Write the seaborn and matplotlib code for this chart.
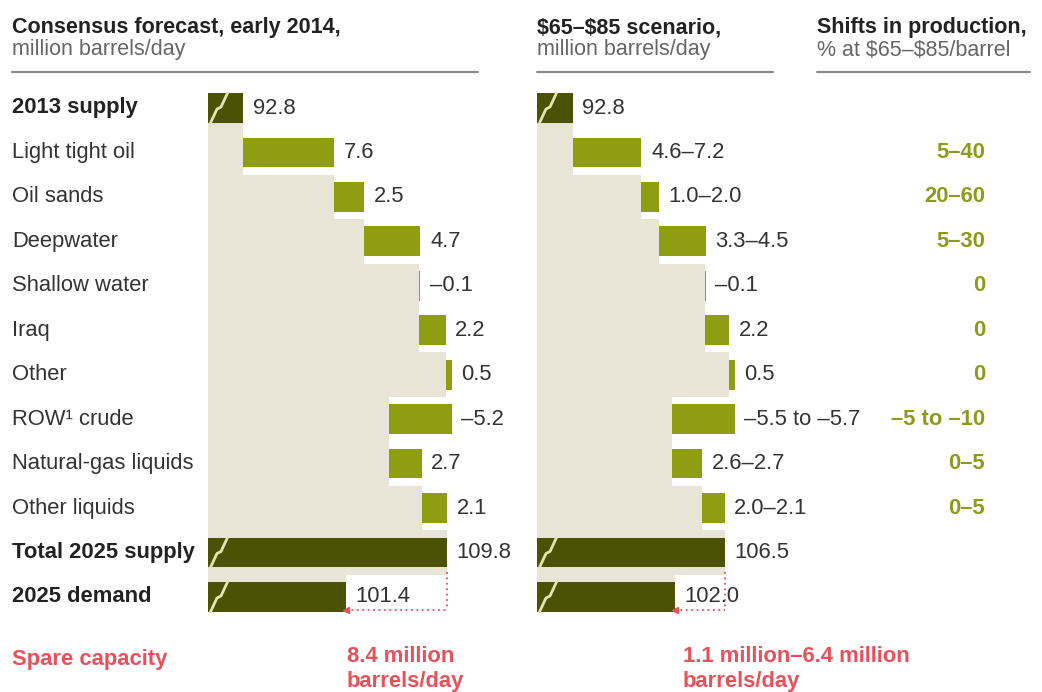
import numpy as np
import pandas as pd
import matplotlib
matplotlib.use("Agg")
import matplotlib.pyplot as plt
import seaborn as sns
from matplotlib.lines import Line2D
from matplotlib.transforms import blended_transform_factory

# ---- data -------------------------------------------------------------
rows = ["2013 supply", "Light tight oil", "Oil sands", "Deepwater",
        "Shallow water", "Iraq", "Other", "ROW\u00b9 crude",
        "Natural-gas liquids", "Other liquids", "Total 2025 supply",
        "2025 demand"]
bold_rows = {"2013 supply", "Total 2025 supply", "2025 demand"}

consensus_start = 92.8
consensus_changes = [7.6, 2.5, 4.7, -0.1, 2.2, 0.5, -5.2, 2.7, 2.1]
consensus_total = 109.8
consensus_demand = 101.4
consensus_labels = ["92.8", "7.6", "2.5", "4.7", "\u20130.1", "2.2", "0.5",
                    "\u20135.2", "2.7", "2.1", "109.8", "101.4"]

scenario_start = 92.8
scenario_changes = [6.2, 1.6, 4.2, -0.1, 2.2, 0.5, -5.6, 2.65, 2.05]
scenario_total = 106.5
scenario_demand = 102.0
scenario_labels = ["92.8", "4.6\u20137.2", "1.0\u20132.0", "3.3\u20134.5",
                   "\u20130.1", "2.2", "0.5", "\u20135.5 to \u20135.7",
                   "2.6\u20132.7", "2.0\u20132.1", "106.5", "102.0"]

shift_labels = ["5\u201340", "20\u201360", "5\u201330", "0", "0", "0",
                "\u20135 to \u201310", "0\u20135", "0\u20135"]

spare_title = "Spare capacity"
spare_consensus = ["8.4 million", "barrels/day"]
spare_scenario = ["1.1 million\u20136.4 million", "barrels/day"]

# ---- style ------------------------------------------------------------
sns.set_theme(style="white")
plt.rcParams["font.family"] = ["Liberation Sans", "DejaVu Sans"]

DARK = "#4b5204"
GREEN = "#8f9e10"
BEIGE = "#e9e5d6"
RED = "#e8505a"
TEXT = "#333333"
SUB = "#666666"
SHIFT = "#8c9b1a"
RULE = "#8a8a8a"
FS = 15.8

W, H = 1042, 692
fig = plt.figure(figsize=(W / 100, H / 100), dpi=100)

ROW0_PX, ROW_STEP_PX = 108, 44.45
AX_TOP = ROW0_PX - 0.5 * ROW_STEP_PX
AX_BOT = ROW0_PX + 11.5 * ROW_STEP_PX
BAR_H = 0.67


def make_axes(left_px, width_px):
    return fig.add_axes([left_px / W, 1 - AX_BOT / H, width_px / W,
                         (AX_BOT - AX_TOP) / H])


def draw_panel(ax, start, changes, total, demand, labels, xmin, width_px, px_per_unit):
    xmax = xmin + width_px / px_per_unit
    y = np.arange(len(rows))
    running = start + np.concatenate([[0.0], np.cumsum(changes)])
    lo = np.minimum(running[:-1], running[1:])
    hi = np.maximum(running[:-1], running[1:])

    # change bars, drawn to their upper end and masked below by the base
    step_df = pd.DataFrame({"row": rows[1:10], "value": hi})
    sns.barplot(data=step_df, x="value", y="row", order=rows, color=GREEN,
                saturation=1, width=BAR_H, errorbar=None, ax=ax, zorder=1,
                linewidth=0)

    # stepped base area of the waterfall
    edge = np.concatenate([[start], lo, [total, demand]])
    ax.fill_betweenx(y, xmin - 1, edge, step="mid", color=BEIGE, lw=0, zorder=2)

    # level bars
    tot_df = pd.DataFrame({"row": [rows[0], rows[10], rows[11]],
                           "value": [start, total, demand]})
    sns.barplot(data=tot_df, x="value", y="row", order=rows, color=DARK,
                saturation=1, width=BAR_H, errorbar=None, ax=ax, zorder=3,
                linewidth=0)

    # axis-break marks on the level bars
    zx = np.array([2, 9, 13, 20]) / px_per_unit
    zy = np.array([16, 1, -1, -16]) / ROW_STEP_PX
    for r in (0, 10, 11):
        ax.plot(xmin + zx, r + zy, color="#e4e4b0", lw=2, zorder=4,
                solid_capstyle="butt")

    # value labels
    right_ends = np.concatenate([[start], hi, [total, demand]])
    for yi, xe, lab in zip(y, right_ends, labels):
        ax.annotate(lab, (xe, yi), xytext=(7, 0), textcoords="offset points",
                    va="center", ha="left", fontsize=FS, color=TEXT, zorder=5)

    # spare capacity marker: demand to total supply
    yline = 11 + 0.3
    ax.plot([demand, total], [yline, yline], ls=(0, (1, 2)), color=RED,
            lw=1.3, zorder=4)
    ax.plot([total, total], [10 + BAR_H / 2 + 0.1, yline], ls=(0, (1, 2)),
            color=RED, lw=1.3, zorder=4)
    ax.plot([demand], [yline], marker="<", ms=5, color=RED, zorder=5)

    ax.set_xlim(xmin, xmax)
    ax.set_ylim(11.5, -0.5)
    ax.set_axis_off()


ax1 = make_axes(208, 312)
draw_panel(ax1, consensus_start, consensus_changes, consensus_total,
           consensus_demand, consensus_labels, 89.9, 312, 12.0)

ax2 = make_axes(537, 300)
draw_panel(ax2, scenario_start, scenario_changes, scenario_total,
           scenario_demand, scenario_labels, 89.6, 300, 11.1)

# ---- row labels and shift column --------------------------------------
trans = blended_transform_factory(fig.transFigure, ax1.transData)
for i, name in enumerate(rows):
    fig.text(12 / W, i, name, transform=trans, va="center", ha="left",
             fontsize=FS, color="#222222" if name in bold_rows else TEXT,
             weight="bold" if name in bold_rows else "normal")

for i, lab in enumerate(shift_labels, start=1):
    fig.text(985 / W, i, lab, transform=trans, va="center", ha="right",
             fontsize=FS, color=SHIFT, weight="bold")

# ---- column headers ----------------------------------------------------
headers = [
    (12, 478, "Consensus forecast, early 2014,", "million barrels/day"),
    (537, 773, "$65\u2013$85 scenario,", "million barrels/day"),
    (817, 1030, "Shifts in production,", "% at $65\u2013$85/barrel"),
]
for x0, x1, title, sub in headers:
    fig.text(x0 / W, 1 - 28 / H, title.replace("$", r"\$"), fontsize=FS - 0.3,
             weight="bold", color="#222222", va="center", ha="left")
    fig.text(x0 / W, 1 - 50 / H, sub.replace("$", r"\$"), fontsize=FS - 0.3,
             color=SUB, va="center", ha="left")
    fig.add_artist(Line2D([x0 / W, x1 / W], [1 - 72 / H, 1 - 72 / H],
                          color=RULE, lw=1.6))

# ---- spare capacity footer --------------------------------------------
fig.text(12 / W, 1 - 660 / H, spare_title, fontsize=FS, color=RED,
         weight="bold", va="center", ha="left")
for x0, lines in ((347, spare_consensus), (683, spare_scenario)):
    for k, line in enumerate(lines):
        fig.text(x0 / W, 1 - (657 + 25 * k) / H, line, fontsize=FS,
                 color=RED, weight="bold", va="center", ha="left")

fig.savefig("out.png", dpi=100, facecolor="white")
